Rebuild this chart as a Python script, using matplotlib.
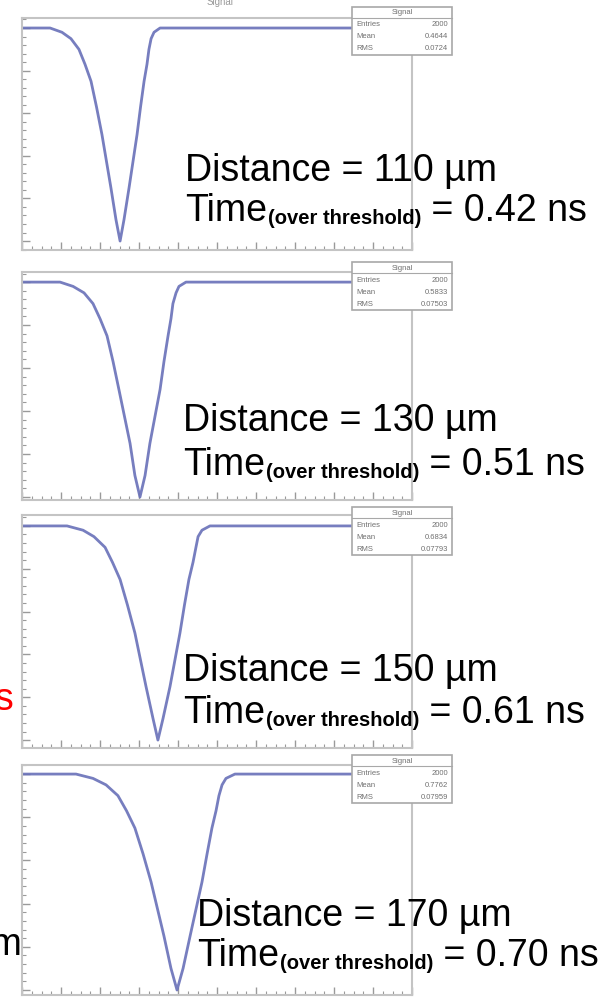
import numpy as np
import matplotlib.pyplot as plt
from matplotlib.patches import Rectangle
from matplotlib.lines import Line2D
from matplotlib.transforms import IdentityTransform
from matplotlib.ticker import MultipleLocator, AutoMinorLocator

plt.rcParams['font.family'] = ['Liberation Sans', 'DejaVu Sans']

W, H = 606, 997

# --- panel annotations ---
distances = [110, 130, 150, 170]
tot_ns = ["0.42", "0.51", "0.61", "0.70"]
entries = ["2000", "2000", "2000", "2000"]
means = ["0.4644", "0.5833", "0.6834", "0.7762"]
rms = ["0.0724", "0.07503", "0.07793", "0.07959"]

# --- pulse shapes (time in ns, amplitude normalised) ---
# amplitude samples shared by the four pulses
amp = [0.0, 0.0, -0.02, -0.05, -0.10, -0.17, -0.25, -0.37, -0.50, -0.75, -0.90, -1.0,
       -0.90, -0.75, -0.50, -0.37, -0.25, -0.17, -0.10, -0.05, -0.02, 0.0, 0.0]

t_110 = [0.0, 0.144, 0.205, 0.251, 0.292, 0.323, 0.354, 0.382, 0.410, 0.456, 0.482, 0.503,
         0.523, 0.549, 0.590, 0.608, 0.626, 0.641, 0.651, 0.662, 0.677, 0.708, 2.0]
t_130 = [0.0, 0.195, 0.262, 0.318, 0.364, 0.400, 0.436, 0.467, 0.497, 0.554, 0.579, 0.605,
         0.631, 0.656, 0.708, 0.728, 0.749, 0.764, 0.774, 0.790, 0.805, 0.841, 2.0]
t_150 = [0.0, 0.231, 0.313, 0.369, 0.426, 0.464, 0.503, 0.541, 0.579, 0.636, 0.672, 0.697,
         0.723, 0.759, 0.810, 0.833, 0.856, 0.877, 0.892, 0.903, 0.923, 0.964, 2.0]
t_170 = [0.0, 0.277, 0.364, 0.431, 0.492, 0.536, 0.579, 0.621, 0.662, 0.728, 0.764, 0.795,
         0.826, 0.862, 0.923, 0.949, 0.974, 0.995, 1.010, 1.026, 1.046, 1.092, 2.0]

times = [t_110, t_130, t_150, t_170]

# panel geometry in pixels (top, bottom) and y limits
tops = [18, 272, 515, 765]
bottoms = [250, 500, 748, 995]
ylims = [(-1.042, 0.047), (-1.014, 0.047), (-1.037, 0.051), (-1.023, 0.042)]
text_x = [185, 183, 183, 197]
base1 = [181, 431, 681, 926]
base2 = [221, 475, 723, 966]
box_top = [7, 262, 507, 755]

fig = plt.figure(figsize=(W / 100, H / 100), dpi=100)
renderer = fig.canvas.get_renderer()
ident = IdentityTransform()

frame_col = '#c4c4c4'
ax_left, ax_right = 22, 412

for i in range(4):
    ax = fig.add_axes([ax_left / W, 1 - bottoms[i] / H,
                       (ax_right - ax_left) / W, (bottoms[i] - tops[i]) / H])
    ax.plot(times[i], amp, color='#6870b8', lw=2.0, alpha=0.9,
            solid_joinstyle='round')
    ax.set_xlim(0, 2.0)
    ax.set_ylim(*ylims[i])
    ax.xaxis.set_major_locator(MultipleLocator(0.2))
    ax.xaxis.set_minor_locator(AutoMinorLocator(4))
    ax.yaxis.set_major_locator(MultipleLocator(0.2))
    ax.yaxis.set_minor_locator(AutoMinorLocator(5))
    ax.tick_params(which='both', direction='in', color='#9a9a9a',
                   labelleft=False, labelbottom=False)
    ax.tick_params(which='major', length=6, width=1)
    ax.tick_params(which='minor', length=3, width=0.8)
    for s in ax.spines.values():
        s.set_color(frame_col)
        s.set_linewidth(1.5)

    # statistics box
    bx0, bx1 = 352, 452
    by0, by1 = box_top[i], box_top[i] + 48
    fig.add_artist(Rectangle((bx0 / W, 1 - by1 / H), (bx1 - bx0) / W, (by1 - by0) / H,
                             transform=fig.transFigure, facecolor='white',
                             edgecolor='#a8a8a8', lw=1.2, zorder=5))
    fig.add_artist(Line2D([bx0 / W, bx1 / W], [1 - (by0 + 11) / H] * 2,
                          transform=fig.transFigure, color='#a8a8a8', lw=0.8, zorder=6))
    fig.text((bx0 + bx1) / 2 / W, 1 - (by0 + 6) / H, 'Signal', fontsize=5.5,
             color='#707070', ha='center', va='center', zorder=7)
    rows = [('Entries', entries[i]), ('Mean', means[i]), ('RMS', rms[i])]
    for k, (lab, val) in enumerate(rows):
        yy = 1 - (by0 + 18 + k * 12) / H
        fig.text((bx0 + 4) / W, yy, lab, fontsize=5.5, color='#707070',
                 ha='left', va='center', zorder=7)
        fig.text((bx1 - 4) / W, yy, val, fontsize=5.5, color='#707070',
                 ha='right', va='center', zorder=7)

    # annotation text
    fs = 27
    fig.text(text_x[i], H - base1[i], f'Distance = {distances[i]} µm', fontsize=fs,
             transform=ident, va='baseline', ha='left', zorder=8)
    t1 = fig.text(text_x[i], H - base2[i], 'Time', fontsize=fs,
                  transform=ident, va='baseline', ha='left', zorder=8)
    bb = t1.get_window_extent(renderer)
    t2 = fig.text(bb.x1 + 1, H - base2[i] - 3, '(over threshold)', fontsize=14.5,
                  fontweight='bold', transform=ident, va='baseline', ha='left', zorder=8)
    bb2 = t2.get_window_extent(renderer)
    fig.text(bb2.x1, H - base2[i], f' = {tot_ns[i]} ns', fontsize=fs,
             transform=ident, va='baseline', ha='left', zorder=8)

# clipped title at the very top and cut-off words at the left edge
fig.text(220 / W, 1 - 2 / H, 'Signal', fontsize=7, color='#9a9a9a',
         ha='center', va='center')
fig.text(14, H - 710, 'ns', fontsize=27, color='red', transform=ident,
         ha='right', va='baseline')
fig.text(22, H - 955, 'µm', fontsize=27, color='black', transform=ident,
         ha='right', va='baseline')

fig.savefig('out.png', dpi=100)
